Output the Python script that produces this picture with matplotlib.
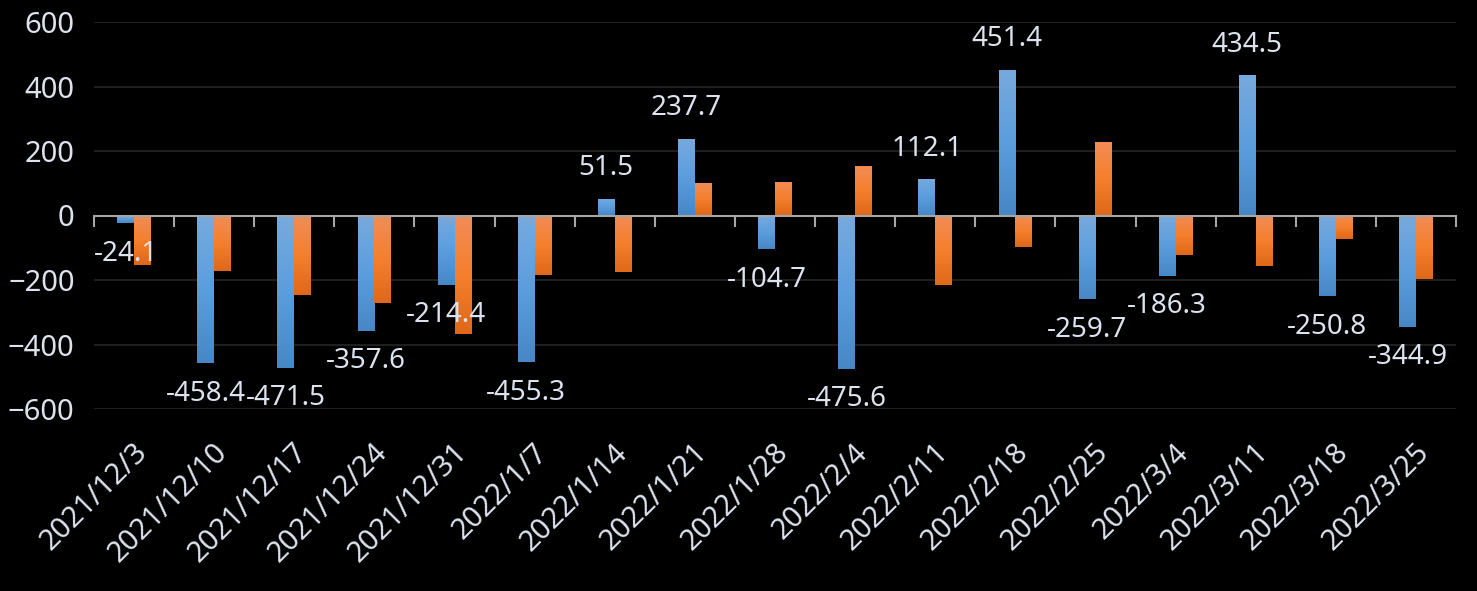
import numpy as np
import matplotlib.pyplot as plt
from matplotlib.colors import LinearSegmentedColormap

plt.rcParams['font.family'] = ['Noto Sans', 'DejaVu Sans']

dates = ["2021/12/3", "2021/12/10", "2021/12/17", "2021/12/24", "2021/12/31",
         "2022/1/7", "2022/1/14", "2022/1/21", "2022/1/28", "2022/2/4",
         "2022/2/11", "2022/2/18", "2022/2/25", "2022/3/4", "2022/3/11",
         "2022/3/18", "2022/3/25"]
blue_vals = [-24.1, -458.4, -471.5, -357.6, -214.4, -455.3, 51.5, 237.7, -104.7,
             -475.6, 112.1, 451.4, -259.7, -186.3, 434.5, -250.8, -344.9]
orange_vals = [-152, -171, -248, -270, -366, -183, -174, 102, 105, 152,
               -217, -99, 229, -124, -158, -74, -198]

TEXT = "#DCE3EE"
blue_cmap = LinearSegmentedColormap.from_list("b", ["#78AADE", "#5C9DDD", "#4787C6"])
orange_cmap = LinearSegmentedColormap.from_list("o", ["#F18D58", "#F57F2C", "#DF6819"])

fig = plt.figure(figsize=(14.77, 5.91), dpi=100, facecolor="black")
ax = fig.add_axes([94/1477, 1-409/591, (1456-94)/1477, (409-22)/591])
ax.set_facecolor("black")

x = np.arange(len(dates))
w = 0.21
grad = np.linspace(0, 1, 256).reshape(-1, 1)


def gradient_bars(bars, cmap):
    for b in bars:
        x0, y0 = b.get_x(), b.get_y()
        bw, bh = b.get_width(), b.get_height()
        ylo, yhi = min(y0, y0 + bh), max(y0, y0 + bh)
        im = ax.imshow(grad, cmap=cmap, aspect="auto", origin="upper",
                       extent=(x0, x0 + bw, ylo, yhi), zorder=3)
        im.set_clip_path(b)


b1 = ax.bar(x - w/2, blue_vals, w, color="#5B9BD5", zorder=2)
b2 = ax.bar(x + w/2, orange_vals, w, color="#ED7D31", zorder=2)
gradient_bars(b1, blue_cmap)
gradient_bars(b2, orange_cmap)

ax.set_xlim(-0.5, len(dates) - 0.5)
ax.set_ylim(-600, 600)
ax.set_yticks(np.arange(-600, 601, 200))
ax.yaxis.grid(True, color="#262626", linewidth=1.2, zorder=0)
ax.set_axisbelow(True)

for s in ["top", "right", "left"]:
    ax.spines[s].set_visible(False)
ax.spines["bottom"].set_position(("data", 0))
ax.spines["bottom"].set_color("#A6A6A6")
ax.spines["bottom"].set_linewidth(1.5)
ax.spines["bottom"].set_zorder(4)
ax.set_xticks(np.arange(len(dates) + 1) - 0.5)
ax.tick_params(axis="x", direction="out", length=8, width=1.5, color="#A6A6A6",
               labelbottom=False)
ax.tick_params(axis="y", length=0, labelsize=21, labelcolor=TEXT, pad=14)

for i, d in enumerate(dates):
    ax.text(i - 0.02, -0.075, d, transform=ax.get_xaxis_transform(), rotation=45,
            ha="right", va="top", rotation_mode="anchor", fontsize=21, color=TEXT)

for i, v in enumerate(blue_vals):
    off = 22 if v > 0 else -22
    ax.annotate(f"{v:.1f}", (i - w/2, v), xytext=(0, off), textcoords="offset points",
                ha="center", va="center", fontsize=20, color=TEXT, zorder=5)

fig.savefig("out.png", dpi=100, facecolor="black")
